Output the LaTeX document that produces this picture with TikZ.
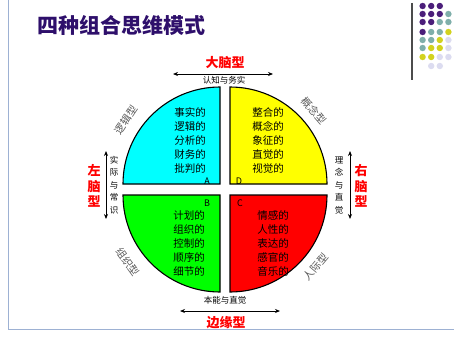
\documentclass[tikz,border=0pt]{standalone}
\usepackage{fontspec}
\newfontfamily\cjk{Noto Sans CJK SC}
\usetikzlibrary{arrows.meta}
\definecolor{titlepurple}{HTML}{2E0F6B}
\definecolor{framecol}{HTML}{9DB1D3}
\definecolor{dotP}{HTML}{4B1E7A}
\definecolor{dotT}{HTML}{7FAFAA}
\definecolor{dotY}{HTML}{D2D21E}
\definecolor{dotL}{HTML}{DCDCF0}
\definecolor{labgray}{HTML}{5A5A5A}
\definecolor{qcyan}{HTML}{00FFFF}
\definecolor{qyellow}{HTML}{FFFF00}
\definecolor{qgreen}{HTML}{00FF00}
\definecolor{qred}{HTML}{FF0000}
\tikzset{
  quad/.style={draw=black,line width=1.1pt},
  qtext/.style={font=\cjk\fontsize{10.5}{14}\selectfont,align=center,inner sep=0pt},
  qletter/.style={font=\cjk\fontsize{9}{10}\selectfont,inner sep=0pt},
  outlab/.style={font=\cjk\fontsize{10.5}{12}\selectfont,text=labgray,inner sep=0pt},
  redlab/.style={font=\cjk\bfseries\fontsize{13}{15.5}\selectfont,text=qred,inner sep=0pt,align=center},
  smalllab/.style={font=\cjk\fontsize{8.5}{12.5}\selectfont,inner sep=0pt,align=center},
  dblarrow/.style={{Stealth[length=5pt,width=4pt]}-{Stealth[length=5pt,width=4pt]},line width=0.8pt},
  dot/.style={circle,minimum size=6.4pt,inner sep=0pt}
}
\begin{document}
\begin{tikzpicture}[x=1pt,y=1pt]
\useasboundingbox (0,0) rectangle (454,349);
\fill[white] (0,0) rectangle (454,349);
% frame
\draw[framecol,line width=1pt] (8,349) -- (8,20) -- (454,20);
% title
\node[font=\cjk\bfseries\fontsize{21}{24}\selectfont,text=titlepurple,inner sep=0pt] (title) at (121,324) {四种组合思维模式};
% decoration
\draw[black!70,line width=2pt] (412,346) -- (412,269);
\foreach \c [count=\i] in {dotP,dotP,dotP}{\node[dot,fill=\c] (d1\i) at ({414+8.6*\i},343) {};}
\foreach \c [count=\i] in {dotP,dotP,dotP,dotT}{\node[dot,fill=\c] (d2\i) at ({414+8.6*\i},335) {};}
\foreach \c [count=\i] in {dotP,dotP,dotT,dotT}{\node[dot,fill=\c] (d3\i) at ({414+8.6*\i},327) {};}
\foreach \c [count=\i] in {dotP,dotT,dotT,dotY}{\node[dot,fill=\c] (d4\i) at ({414+8.6*\i},317) {};}
\foreach \c [count=\i] in {dotT,dotT,dotY,dotL}{\node[dot,fill=\c] (d5\i) at ({414+8.6*\i},309) {};}
\foreach \c [count=\i] in {dotT,dotY,dotY,dotL}{\node[dot,fill=\c] (d6\i) at ({414+8.6*\i},301) {};}
\foreach \c [count=\i] in {dotY,dotY,dotL,dotL}{\node[dot,fill=\c] (d7\i) at ({414+8.6*\i},292) {};}
\foreach \c [count=\i] in {dotL,dotL}{\node[dot,fill=\c] (d8\i) at ({422.6+8.6*\i},283) {};}
% quadrants
\draw[quad,fill=qcyan] (220,165) -- (123,165) arc[start angle=180,end angle=90,radius=97] -- cycle;
\draw[quad,fill=qyellow] (230,165) -- (230,262) arc[start angle=90,end angle=0,radius=97] -- cycle;
\draw[quad,fill=qgreen] (220,154) -- (123,154) arc[start angle=180,end angle=270,radius=97] -- cycle;
\draw[quad,fill=qred] (230,154) -- (327,154) arc[start angle=0,end angle=-90,radius=97] -- cycle;
% quadrant texts
\node[qtext] (tA) at (190,208) {事实的\\逻辑的\\分析的\\财务的\\批判的};
\node[qtext] (tD) at (268,208) {整合的\\概念的\\象征的\\直觉的\\视觉的};
\node[qtext] (tB) at (189,106) {计划的\\组织的\\控制的\\顺序的\\细节的};
\node[qtext] (tC) at (273,106) {情感的\\人性的\\表达的\\感官的\\音乐的};
\node[qletter] (lA) at (207,168) {A};
\node[qletter] (lD) at (239,168) {D};
\node[qletter] (lB) at (207,146) {B};
\node[qletter] (lC) at (240,146) {C};
% outer labels
\node[outlab,rotate=56] (oA) at (126,229) {逻辑型};
\node[outlab,rotate=-49] (oD) at (314,238) {概念型};
\node[outlab,rotate=-54] (oB) at (128,87) {组织型};
\node[outlab,rotate=50] (oC) at (316,82) {人际型};
% top
\node[redlab] (top) at (225,286) {大脑型};
\coordinate (tl) at (173,275);
\coordinate (tr) at (273,275);
\draw[dblarrow] (tl) -- (tr);
\node[smalllab] (toptxt) at (224,268.5) {认知与务实};
% bottom
\node[smalllab] (bottxt) at (225,49) {本能与直觉};
\coordinate (bl) at (180,38);
\coordinate (br) at (280,38);
\draw[dblarrow] (bl) -- (br);
\node[redlab] (bot) at (226,26) {边缘型};
% left
\node[redlab] (left) at (94,163) {左\\脑\\型};
\coordinate (lt) at (106,198);
\coordinate (lb) at (106,130);
\draw[dblarrow] (lt) -- (lb);
\node[smalllab] (lefttxt) at (114,164) {实\\际\\与\\常\\识};
% right
\node[redlab] (right) at (361,163) {右\\脑\\型};
\coordinate (rt) at (350,198);
\coordinate (rb) at (350,130);
\draw[dblarrow] (rt) -- (rb);
\node[smalllab] (righttxt) at (339,164) {理\\念\\与\\直\\觉};
\end{tikzpicture}
\end{document}
